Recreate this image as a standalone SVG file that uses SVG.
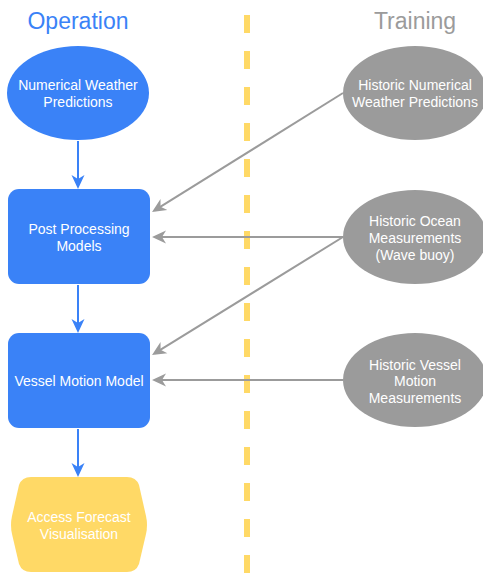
<svg xmlns="http://www.w3.org/2000/svg" width="483" height="573" viewBox="0 0 483 573">
<defs>
<style>
.t{font-family:"Liberation Sans",Arial,sans-serif;font-size:14px;fill:#fff;text-anchor:middle}
.title{font-family:"Liberation Sans",Arial,sans-serif;font-size:23px;text-anchor:middle}
.blue{fill:#3A82F7}
.gray{fill:#9B9B9B}
.ba{stroke:#3A82F7;stroke-width:2;fill:none;marker-end:url(#hb)}
.ga{stroke:#9B9B9B;stroke-width:2;fill:none;marker-end:url(#hg)}
</style>
<marker id="hb" viewBox="0 0 14 14" refX="11" refY="7" markerWidth="14" markerHeight="14" markerUnits="userSpaceOnUse" orient="auto">
<path d="M0,0.5 L14,7 L0,13.5 L4,7 Z" fill="#3A82F7"/>
</marker>
<marker id="hg" viewBox="0 0 14 14" refX="11" refY="7" markerWidth="14" markerHeight="14" markerUnits="userSpaceOnUse" orient="auto">
<path d="M0,0.5 L14,7 L0,13.5 L4,7 Z" fill="#9B9B9B"/>
</marker>
</defs>
<rect width="483" height="573" fill="#fff"/>
<line x1="247" y1="15" x2="247" y2="573" stroke="#FFD966" stroke-width="6" stroke-dasharray="18 18"/>
<text class="title" x="78" y="29" fill="#3A82F7">Operation</text>
<text class="title" x="415" y="29" fill="#9B9B9B">Training</text>
<g id="connectors">
<line class="ba" x1="78" y1="141" x2="78" y2="186"/>
<line class="ba" x1="78" y1="285" x2="78" y2="330"/>
<line class="ba" x1="78" y1="429" x2="78" y2="474"/>
<line class="ga" x1="343" y1="93" x2="154.6" y2="210.4"/>
<line class="ga" x1="343" y1="237" x2="155" y2="237"/>
<line class="ga" x1="343" y1="237" x2="154.6" y2="353.4"/>
<line class="ga" x1="343" y1="380" x2="155" y2="380"/>
</g>
<g id="nwp">
<ellipse class="blue" cx="78" cy="93" rx="71" ry="47"/>
<text class="t" x="78" y="90">Numerical Weather</text>
<text class="t" x="78" y="107">Predictions</text>
</g>
<g id="post-processing">
<rect class="blue" x="8" y="189" width="142" height="95" rx="11"/>
<text class="t" x="79" y="234">Post Processing</text>
<text class="t" x="79" y="251">Models</text>
</g>
<g id="vessel-motion">
<rect class="blue" x="8" y="333" width="142" height="95" rx="11"/>
<text class="t" x="79" y="386">Vessel Motion Model</text>
</g>
<g id="access-forecast">
<path d="M31,477 L127,477 Q136,477 139,485 L146,516 Q148,525 146,534 L139,564 Q136,572 127,572 L31,572 Q22,572 19,564 L12,534 Q10,525 12,516 L19,485 Q22,477 31,477 Z" fill="#FFD966"/>
<text class="t" x="79" y="522">Access Forecast</text>
<text class="t" x="79" y="539">Visualisation</text>
</g>
<g id="historic-nwp">
<ellipse class="gray" cx="415" cy="93" rx="72" ry="47"/>
<text class="t" x="415" y="90">Historic Numerical</text>
<text class="t" x="415" y="107">Weather Predictions</text>
</g>
<g id="historic-ocean">
<ellipse class="gray" cx="415" cy="237" rx="72" ry="47"/>
<text class="t" x="415" y="226">Historic Ocean</text>
<text class="t" x="415" y="243">Measurements</text>
<text class="t" x="415" y="260">(Wave buoy)</text>
</g>
<g id="historic-vessel">
<ellipse class="gray" cx="415" cy="380" rx="72" ry="47"/>
<text class="t" x="415" y="370">Historic Vessel</text>
<text class="t" x="415" y="386">Motion</text>
<text class="t" x="415" y="403">Measurements</text>
</g>
</svg>
